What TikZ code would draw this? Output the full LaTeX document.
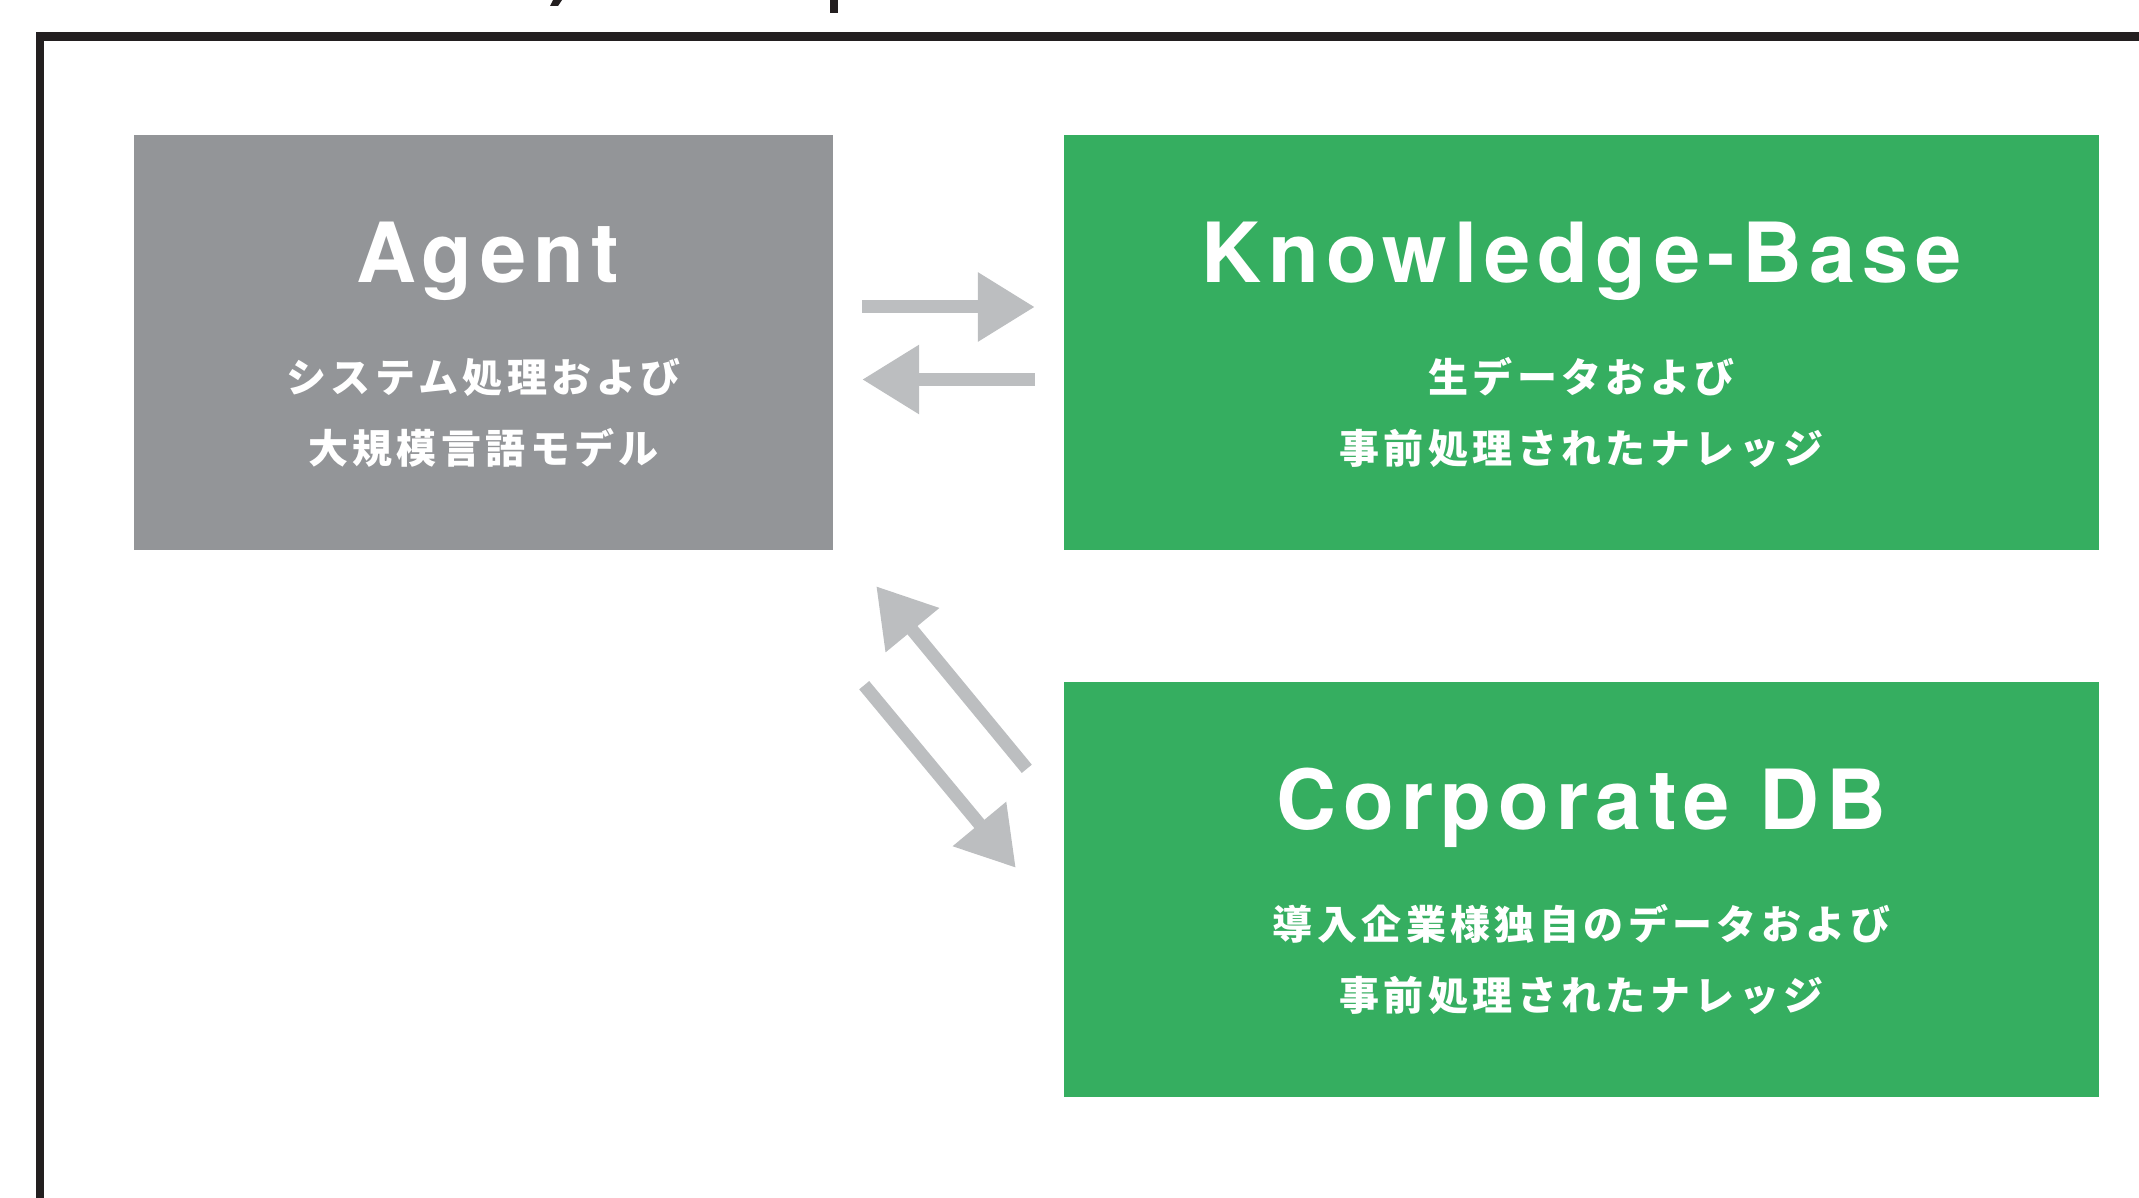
\documentclass[tikz,border=0pt]{standalone}
\usepackage{fontspec}
\setmainfont{TeX Gyre Heros}
\newfontfamily\titlefont[LetterSpace=8.5]{TeX Gyre Heros}
\newfontfamily\jpfont[LetterSpace=11]{Noto Sans CJK JP}
\usetikzlibrary{arrows.meta,calc}

\definecolor{agentgray}{HTML}{939598}
\definecolor{kbgreen}{HTML}{35AE60}
\definecolor{flowgray}{HTML}{BCBEC0}
\definecolor{framedark}{HTML}{231F20}

\tikzset{
	box/.style={minimum height=415pt, inner sep=0pt},
	agentbox/.style={box, fill=agentgray, minimum width=699pt},
	databox/.style={box, fill=kbgreen, minimum width=1035pt},
	title/.style={anchor=base, text=white, font=\titlefont\bfseries\fontsize{83}{90}\selectfont},
	sub/.style={anchor=base, text=white, font=\jpfont\bfseries\fontsize{40}{48}\selectfont},
	flow/.style={draw=flowgray, line width=13pt, -{Triangle[length=57pt,width=66pt]}}
}

\begin{document}
\begin{tikzpicture}[x=1pt,y=-1pt]
	\useasboundingbox (0,0) rectangle (2139,1198);
	% outer frame and what is left of the heading
	\draw[framedark, line width=8.5pt] (40,1230) -- (40,36.5) -- (2170,36.5);
	\fill[framedark] (550,6) -- (553,0) -- (562,0) -- (558,6) -- cycle;
	\fill[framedark] (830,0) rectangle (838,13);

	\node[agentbox] (agent) at (483.5,342.5) {};
	\node[databox] (kb) at (1581.5,342.5) {};
	\node[databox] (corp) at (1581.5,889.5) {};

	\node[title] (agentT) at ($(agent.north)+(4,148)$) {Agent};
	\node[sub] (agentS1) at ($(agent.north)+(0,258)$) {システム処理および};
	\node[sub] (agentS2) at ($(agent.north)+(0,329)$) {大規模言語モデル};

	\node[title] (kbT) at ($(kb.north)+(0,148)$) {Knowledge-Base};
	\node[sub] (kbS1) at ($(kb.north)+(0,258)$) {生データおよび};
	\node[sub] (kbS2) at ($(kb.north)+(0,329)$) {事前処理されたナレッジ};

	\node[title] (corpT) at ($(corp.north)+(0,148)$) {Corporate DB};
	\node[sub] (corpS1) at ($(corp.north)+(0,258)$) {導入企業様独自のデータおよび};
	\node[sub] (corpS2) at ($(corp.north)+(0,329)$) {事前処理されたナレッジ};

	\coordinate (upTail) at ($(corp.north west)+(-37,87)$);
	\coordinate (upTip) at ($(agent.south east)+(43,36)$);
	\coordinate (downTail) at ($(agent.south east)+(31,135)$);
	\coordinate (downTip) at ($(corp.north west)+(-48,186)$);

	\draw[flow, shorten <=29pt, shorten >=29pt] ([yshift=35.5pt]agent.east) -- ([yshift=35.5pt]kb.west);
	\draw[flow, shorten <=29pt, shorten >=29pt] ([yshift=-37pt]kb.west) -- ([yshift=-37pt]agent.east);
	\draw[flow] (upTail) -- (upTip);
	\draw[flow] (downTail) -- (downTip);
\end{tikzpicture}
\end{document}
